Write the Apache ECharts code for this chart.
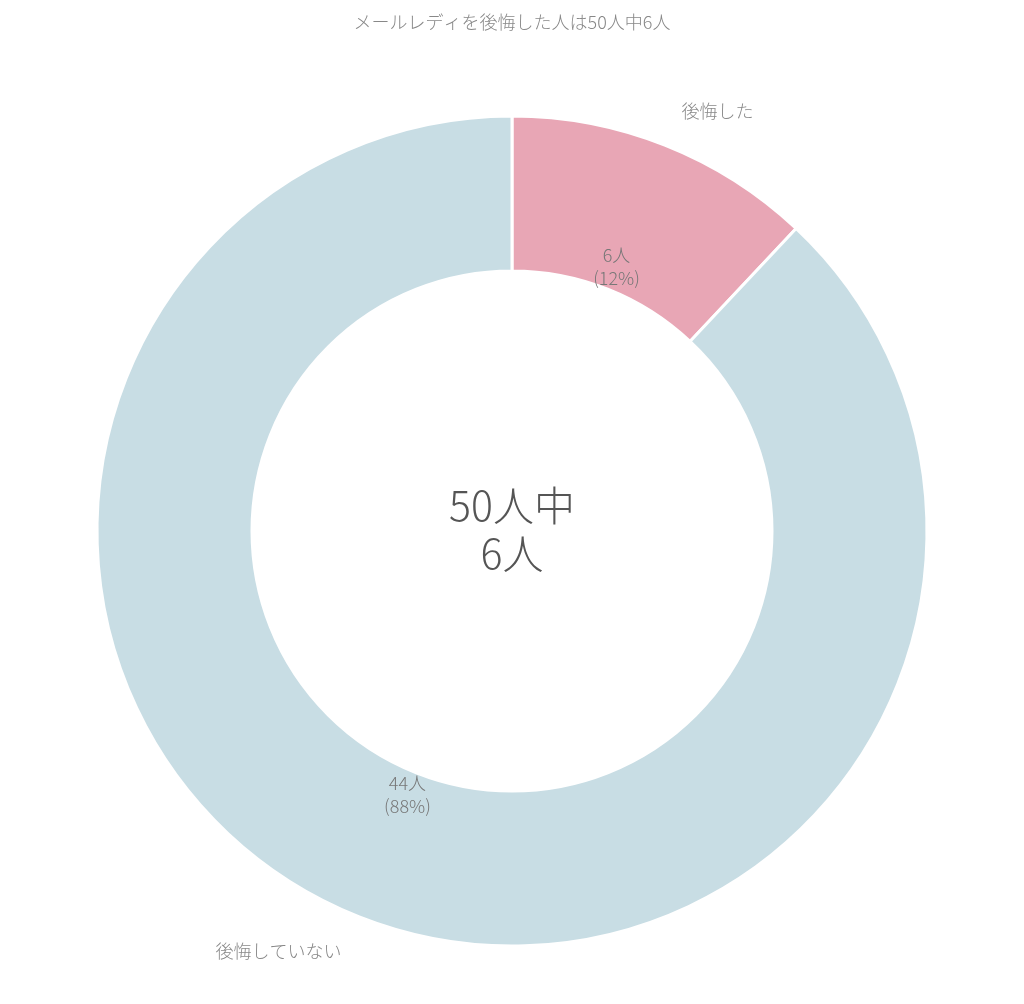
<!DOCTYPE html>
<html>
<head>
<meta charset="utf-8">
<script src="https://cdn.jsdelivr.net/npm/echarts@6/dist/echarts.min.js"></script>
<style>
  html, body { margin: 0; padding: 0; background: #fff; }
  #main { width: 1024px; height: 1004px; }
</style>
</head>
<body>
<div id="main"></div>
<script>
var FONT = '"Noto Sans CJK JP", "Noto Sans", sans-serif';

// data
var categories = ['後悔した', '後悔していない'];
var counts = [6, 44];
var colors = ['#e8a6b5', '#c8dde4'];

var chartTitle = 'メールレディを後悔した人は50人中6人';
var centerText = '50人中\n6人';

var pieData = categories.map(function (name, i) {
    return { name: name, value: counts[i], itemStyle: { color: colors[i] } };
});

var myChart = echarts.init(document.getElementById('main'));

var option = {
    animation: false,
    title: {
        text: chartTitle,
        left: 'center',
        top: 8,
        textStyle: { fontFamily: FONT, fontSize: 18, fontWeight: 300, color: '#888' }
    },
    graphic: [
        {
            type: 'text',
            left: 'center',
            top: 481,
            style: {
                text: centerText,
                textAlign: 'center',
                fontFamily: FONT,
                fontSize: 41,
                fontWeight: 300,
                lineHeight: 48,
                fill: '#555'
            }
        }
    ],
    series: [
        {
            // the ring itself
            type: 'pie',
            center: ['50%', 531],
            radius: [260, 415],
            silent: true,
            itemStyle: { borderColor: '#fff', borderWidth: 3 },
            label: { show: false },
            labelLine: { show: false },
            data: pieData
        },
        {
            // count / percent labels near the inner edge
            type: 'pie',
            center: ['50%', 531],
            radius: [265, 297],
            silent: true,
            itemStyle: { color: 'transparent' },
            label: {
                show: true,
                position: 'inside',
                formatter: '{c}人\n({d}%)',
                fontFamily: FONT,
                fontSize: 18,
                lineHeight: 23,
                fontWeight: 300,
                color: '#777'
            },
            labelLine: { show: false },
            data: counts.map(function (v, i) { return { name: categories[i], value: v }; })
        },
        {
            // category names outside the ring
            type: 'pie',
            center: ['50%', 531],
            radius: [456, 486],
            startAngle: 84,
            silent: true,
            itemStyle: { color: 'transparent' },
            label: {
                show: true,
                position: 'inside',
                formatter: '{b}',
                offset: [-14, 0],
                fontFamily: FONT,
                fontSize: 18,
                fontWeight: 300,
                color: '#888'
            },
            labelLine: { show: false },
            data: counts.map(function (v, i) { return { name: categories[i], value: v }; })
        }
    ]
};

myChart.setOption(option);
</script>
</body>
</html>
